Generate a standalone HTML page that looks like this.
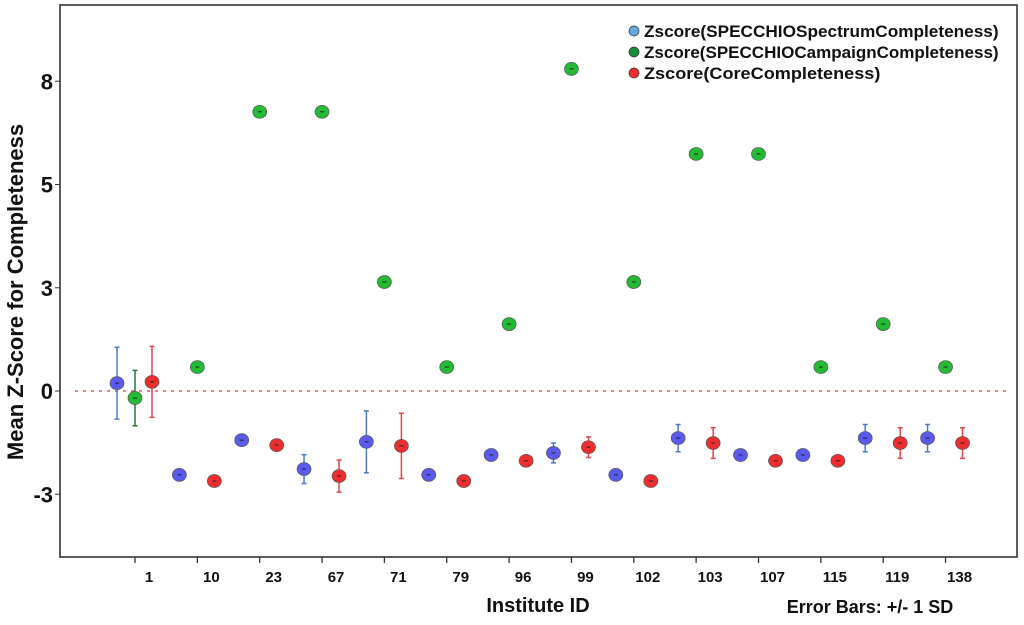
<!DOCTYPE html>
<html><head><meta charset="utf-8"><style>
body{margin:0;background:#fff;}
svg text{font-family:"Liberation Sans",Arial,sans-serif;font-weight:bold;}
</style></head><body>
<svg id="chart" width="1024" height="620">
<rect x="0" y="0" width="1024" height="620" fill="#fff"/>
<g id="marks"></g>
</svg>
<script>
const categories=["1","10","23","67","71","79","96","99","102","103","107","115","119","138"];
const spectrumMean=[0.19,-2.03,-1.19,-1.89,-1.23,-2.03,-1.55,-1.50,-2.03,-1.14,-1.55,-1.55,-1.14,-1.14];
const spectrumSD=[0.87,0,0,0.35,0.75,0,0,0.24,0,0.33,0,0,0.33,0.33];
const campaignMean=[-0.17,0.58,6.76,6.76,2.64,0.58,1.62,7.80,2.64,5.74,5.74,0.58,1.62,0.58];
const campaignSD=[0.67,0,0,0,0,0,0,0,0,0,0,0,0,0];
const coreMean=[0.22,-2.18,-1.31,-2.06,-1.33,-2.18,-1.69,-1.36,-2.18,-1.26,-1.69,-1.69,-1.26,-1.26];
const coreSD=[0.86,0,0,0.39,0.79,0,0,0.25,0,0.37,0,0,0.37,0.37];
const yTicks=[7.5,5,2.5,0,-2.5];
const yTickLabels=["8","5","3","0","-3"];

const NS="http://www.w3.org/2000/svg";
const g=document.getElementById('marks');
const L=60,T=5,R=1017,B=557;
const y0=391,pxPerUnit=41.3;
function yScale(v){return y0-v*pxPerUnit;}
function xScale(i){return 135+i*62.35;}
function el(tag,attrs,parent){const e=document.createElementNS(NS,tag);for(const k in attrs)e.setAttribute(k,attrs[k]);(parent||g).appendChild(e);return e;}

let fr=el('rect',{x:L,y:T,width:R-L,height:B-T,fill:'none',stroke:'#333','stroke-width':1.6});


let zl=el('line',{x1:L+15,x2:R-10,y1:yScale(0),y2:yScale(0),stroke:'#f03030','stroke-width':1.3,'stroke-dasharray':'3,5'});


yTicks.forEach((v,i)=>{
  let t=el('line',{x1:L-5,x2:L,y1:yScale(v),y2:yScale(v),stroke:'#333'});
  
  
  let tx=el('text',{x:L-7,y:yScale(v)+8,'text-anchor':'end','font-size':22,fill:'#111'});
  tx.textContent=yTickLabels[i];
  
  
});
categories.forEach((c,i)=>{
  let t=el('line',{x1:xScale(i),x2:xScale(i),y1:B,y2:B+6,stroke:'#333','stroke-width':1.3});
  
  
  let tx=el('text',{x:xScale(i)+14,y:B+25,'text-anchor':'middle','font-size':15,fill:'#111'});
  tx.textContent=c;
  
  
});
function series(means,sds,off,fill,errColor,name){
  means.forEach((m,i)=>{
    const x=xScale(i)+off,y=yScale(m);
    if(sds[i]>0){
      const y1=yScale(m+sds[i]),y2=yScale(m-sds[i]);
      let e=el('path',{d:`M${x},${y1}V${y2}M${x-2.5},${y1}H${x+2.5}M${x-2.5},${y2}H${x+2.5}`,stroke:errColor,'stroke-width':1.5,fill:'none'});
      
      
    }
    let p=el('ellipse',{cx:x,cy:y,rx:7,ry:6.5,fill:fill,stroke:'#555','stroke-width':0.7});
    
    
    let d=el('line',{x1:x-2,x2:x+2,y1:y,y2:y,stroke:'#222','stroke-width':1});
    
    
  });
}
series(spectrumMean,spectrumSD,-18,'#5a5af0','#4a7acc','spectrum');
series(campaignMean,campaignSD,0,'#22bb33','#1a7a3a','campaign');
series(coreMean,coreSD,17,'#ee2e2e','#e04848','core');

const legendLabels=["Zscore(SPECCHIOSpectrumCompleteness)","Zscore(SPECCHIOCampaignCompleteness)","Zscore(CoreCompleteness)"];
const legendColors=["#66aadd","#1a8a3a","#ee2e2e"];
legendLabels.forEach((lab,i)=>{
  const y=37+i*21;
  let c=el('circle',{cx:634,cy:y-6,r:5,fill:legendColors[i],stroke:'#333','stroke-width':0.7});
  
  
  let t=el('text',{x:644,y:y,'font-size':17,fill:'#111',textLength:lab.length*9.85,lengthAdjust:'spacingAndGlyphs'});
  t.textContent=lab;
  
  
});
let yt=el('text',{x:0,y:0,'font-size':22,'text-anchor':'middle',fill:'#111',transform:'translate(23,292) rotate(-90)'});
yt.textContent='Mean Z-Score for Completeness';


let xt=el('text',{x:538,y:612,'font-size':20,'text-anchor':'middle',fill:'#111'});
xt.textContent='Institute ID';


let note=el('text',{x:870,y:613,'font-size':18,'text-anchor':'middle',fill:'#111','font-weight':'normal'});
note.textContent='Error Bars: +/- 1 SD';


</script>
</body></html>
